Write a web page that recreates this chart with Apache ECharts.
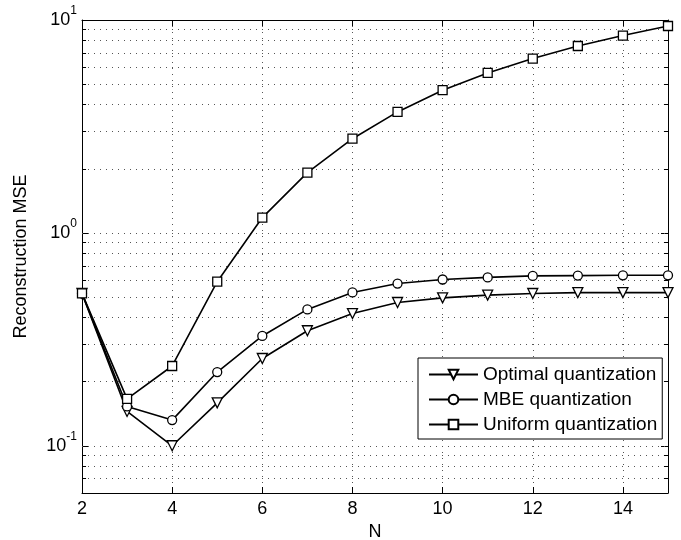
<!DOCTYPE html>
<html>
<head>
<meta charset="utf-8">
<script src="https://cdn.jsdelivr.net/npm/echarts@6/dist/echarts.min.js"></script>
<style>
  html, body { margin: 0; padding: 0; background: #fff; }
  #chart { width: 681px; height: 540px; }
</style>
</head>
<body>
<div id="chart"></div>
<script>
// quantization levels
const nValues = [2, 3, 4, 5, 6, 7, 8, 9, 10, 11, 12, 13, 14, 15];
const optimalMse = [0.52, 0.145, 0.100, 0.159, 0.257, 0.347, 0.418, 0.471, 0.495, 0.510, 0.519, 0.524, 0.524, 0.524];
const mbeMse = [0.52, 0.153, 0.132, 0.222, 0.328, 0.437, 0.525, 0.578, 0.604, 0.618, 0.628, 0.630, 0.632, 0.632];
const uniformMse = [0.52, 0.166, 0.237, 0.59, 1.18, 1.92, 2.77, 3.70, 4.68, 5.64, 6.59, 7.55, 8.45, 9.37];
const seriesNames = ['Optimal quantization', 'MBE quantization', 'Uniform quantization'];
// log grid lines
const yGridValues = [0.07, 0.08, 0.09, 0.1, 0.2, 0.3, 0.4, 0.5, 0.6, 0.7, 0.8, 0.9,
                     1, 2, 3, 4, 5, 6, 7, 8, 9];
const yMinorTicks = [0.07, 0.08, 0.09, 0.2, 0.3, 0.4, 0.5, 0.6, 0.7, 0.8, 0.9,
                     2, 3, 4, 5, 6, 7, 8, 9];

const font = '"Liberation Sans", Arial, sans-serif';
const xMin = 2, xMax = 15;

const pairs = (ys) => nValues.map((n, i) => [n, ys[i]]);

const markerStyle = {
    color: '#fff',
    borderColor: '#000',
    borderWidth: 1.3
};

const makeSeries = (name, ys, symbol, rotate, size) => ({
    name: name,
    type: 'line',
    data: pairs(ys),
    symbol: symbol,
    symbolSize: size,
    symbolRotate: rotate,
    showAllSymbol: true,
    lineStyle: { color: '#000', width: 1.6 },
    itemStyle: markerStyle,
    z: 3
});

const logLabel = (value) => {
    const p = Math.log10(value);
    if (Math.abs(p - Math.round(p)) > 1e-6) return '';
    return '{b|10}{s|' + Math.round(p) + '}';
};

const series = [
    makeSeries(seriesNames[0], optimalMse, 'triangle', 180, 10),
    makeSeries(seriesNames[1], mbeMse, 'circle', 0, 9),
    makeSeries(seriesNames[2], uniformMse, 'rect', 0, 9)
];

// dotted log grid
series[0].markLine = {
    silent: true,
    symbol: 'none',
    label: { show: false },
    lineStyle: { color: '#555', width: 1, type: [1, 5] },
    z: 1,
    data: yGridValues.map(v => ({ yAxis: v }))
};

// minor ticks, left and right
const minorTickLen = 0.09;
series[1].markLine = {
    silent: true,
    symbol: 'none',
    label: { show: false },
    lineStyle: { color: '#000', width: 1, type: 'solid' },
    z: 1,
    data: yMinorTicks.map(v => [{ coord: [xMin, v] }, { coord: [xMin + minorTickLen, v] }])
        .concat(yMinorTicks.map(v => [{ coord: [xMax - minorTickLen, v] }, { coord: [xMax, v] }]))
};

const option = {
    animation: false,
    backgroundColor: '#fff',
    textStyle: { fontFamily: font },
    grid: { left: 82, right: 13, top: 20, bottom: 47, outerBoundsMode: 'none', containLabel: false },
    legend: {
        orient: 'vertical',
        left: 418,
        top: 358,
        data: seriesNames,
        backgroundColor: '#fff',
        borderColor: '#000',
        borderWidth: 1,
        borderRadius: 0,
        padding: [7, 5, 5, 10],
        itemGap: 6,
        itemWidth: 49,
        itemHeight: 12,
        textStyle: { fontSize: 19, color: '#000', fontFamily: font }
    },
    xAxis: [
        {
            type: 'value',
            min: xMin,
            max: xMax,
            interval: 2,
            name: 'N',
            nameLocation: 'middle',
            nameGap: 29,
            nameTextStyle: { fontSize: 18, color: '#000', fontFamily: font },
            axisLine: { lineStyle: { color: '#000', width: 1 } },
            axisTick: { inside: true, length: 6, lineStyle: { color: '#000' } },
            axisLabel: { fontSize: 18, color: '#000', margin: 7, showMaxLabel: false },
            splitLine: { show: true, lineStyle: { color: '#555', width: 1, type: [1, 5] } }
        },
        {
            type: 'value',
            position: 'top',
            min: xMin,
            max: xMax,
            interval: 2,
            axisLine: { lineStyle: { color: '#000', width: 1 } },
            axisTick: { inside: true, length: 6, lineStyle: { color: '#000' } },
            axisLabel: { show: false },
            splitLine: { show: false }
        }
    ],
    yAxis: [
        {
            type: 'log',
            logBase: 10,
            min: 0.06,
            max: 10,
            name: 'Reconstruction MSE',
            nameLocation: 'middle',
            nameGap: 52,
            nameTextStyle: { fontSize: 18, color: '#000', fontFamily: font },
            axisLine: { show: true, lineStyle: { color: '#000', width: 1 } },
            axisTick: { inside: true, length: 7, lineStyle: { color: '#000' } },
            axisLabel: {
                margin: 5,
                formatter: logLabel,
                rich: {
                    b: { fontSize: 18, color: '#000', lineHeight: 30, fontFamily: font },
                    s: { fontSize: 12, color: '#000', lineHeight: 12, verticalAlign: 'top', fontFamily: font }
                }
            },
            splitLine: { show: false }
        },
        {
            type: 'log',
            logBase: 10,
            min: 0.06,
            max: 10,
            position: 'right',
            axisLine: { show: true, lineStyle: { color: '#000', width: 1 } },
            axisTick: { inside: true, length: 7, lineStyle: { color: '#000' } },
            axisLabel: { show: false },
            splitLine: { show: false }
        }
    ],
    series: series
};

const chart = echarts.init(document.getElementById('chart'));
chart.setOption(option);
</script>
</body>
</html>
